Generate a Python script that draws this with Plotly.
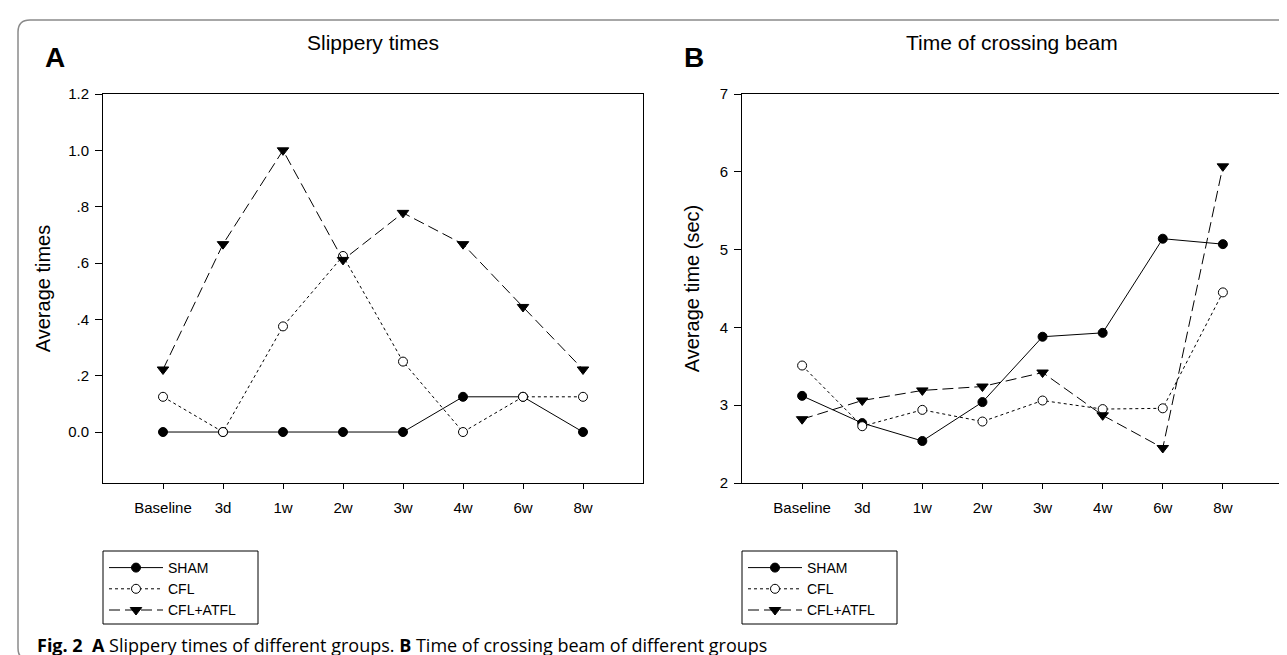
import plotly.graph_objects as go

# ---------------- data ----------------
categories = ["Baseline", "3d", "1w", "2w", "3w", "4w", "6w", "8w"]
group_names = ["SHAM", "CFL", "CFL+ATFL"]

slip_sham = [0.0, 0.0, 0.0, 0.0, 0.0, 0.125, 0.125, 0.0]
slip_cfl = [0.125, 0.0, 0.375, 0.625, 0.25, 0.0, 0.125, 0.125]
slip_cfl_atfl = [0.222, 0.667, 1.0, 0.611, 0.778, 0.667, 0.444, 0.222]

beam_sham = [3.12, 2.77, 2.54, 3.04, 3.88, 3.93, 5.14, 5.07]
beam_cfl = [3.51, 2.73, 2.94, 2.79, 3.06, 2.95, 2.96, 4.45]
beam_cfl_atfl = [2.82, 3.06, 3.19, 3.24, 3.42, 2.87, 2.45, 6.07]

slip_ticks = [0.0, 0.2, 0.4, 0.6, 0.8, 1.0, 1.2]
slip_ticktext = ["0.0", ".2", ".4", ".6", ".8", "1.0", "1.2"]
beam_ticks = [2, 3, 4, 5, 6, 7]

# ---------------- layout geometry ----------------
W, H = 1287, 655
ML, MR, MT, MB = 95, 12, 86, 180
PW, PH = W - ML - MR, H - MT - MB


def px(x):
    return (x - ML) / PW


def py(y):
    return (H - MB - y) / PH


FONT = "Liberation Sans, Arial, sans-serif"

styles = {
    "SHAM": dict(dash="solid", symbol="circle", fill="black", size=9),
    "CFL": dict(dash="dot", symbol="circle", fill="white", size=9),
    "CFL+ATFL": dict(dash="11px,5px", symbol="triangle-down", fill="black", size=10),
}

fig = go.Figure()

panels = [
    ("x", "y", "legend", [slip_sham, slip_cfl, slip_cfl_atfl]),
    ("x2", "y2", "legend2", [beam_sham, beam_cfl, beam_cfl_atfl]),
]
for xa, ya, leg, series in panels:
    for name, vals in zip(group_names, series):
        st = styles[name]
        fig.add_trace(go.Scatter(
            x=categories, y=vals, name=name, mode="lines+markers",
            xaxis=xa, yaxis=ya, legend=leg,
            line=dict(color="black", width=1, dash=st["dash"]),
            marker=dict(symbol=st["symbol"], size=st["size"], color=st["fill"],
                        line=dict(color="black", width=1)),
            hoverinfo="x+y+name",
        ))

axis_common = dict(
    showline=True, linecolor="black", linewidth=1, mirror=True,
    ticks="outside", tickcolor="black", tickwidth=1,
    showgrid=False, zeroline=False,
    tickfont=dict(family=FONT, size=15, color="black"),
)

dom_a = [0.0, px(635)]
dom_b = [px(734), 1.0]

legend_common = dict(
    xanchor="left", yanchor="top",
    borderwidth=0, bgcolor="rgba(0,0,0,0)",
    font=dict(family=FONT, size=14, color="black"),
    itemwidth=54, tracegroupgap=0,
)

fig.update_layout(
    width=W, height=H,
    margin=dict(l=ML, r=MR, t=MT, b=MB, pad=0),
    paper_bgcolor="white", plot_bgcolor="white",
    font=dict(family=FONT, color="black"),
    xaxis=dict(axis_common, domain=dom_a, anchor="y", type="category",
               range=[-1, 8], ticklen=5, ticklabelstandoff=6),
    yaxis=dict(axis_common, domain=[0, 1], anchor="x", range=[-0.181, 1.2],
               tickvals=slip_ticks, ticktext=slip_ticktext, ticklen=7,
               ticklabelstandoff=3,
               title=dict(text="Average times", standoff=12,
                          font=dict(family=FONT, size=20, color="black"))),
    xaxis2=dict(axis_common, domain=dom_b, anchor="y2", type="category",
                range=[-1, 8], ticklen=5, ticklabelstandoff=6),
    yaxis2=dict(axis_common, domain=[0, 1], anchor="x2", range=[2, 7],
                tickvals=beam_ticks, ticklen=7, ticklabelstandoff=3,
                title=dict(text="Average time (sec)", standoff=14,
                           font=dict(family=FONT, size=20, color="black"))),
    legend=dict(legend_common, x=px(96), y=py(544)),
    legend2=dict(legend_common, x=px(735), y=py(544)),
    showlegend=True,
)

annotations = [
    dict(text="Slippery times", x=(dom_a[0] + dom_a[1]) / 2, y=py(35),
         font=dict(family=FONT, size=21)),
    dict(text="Time of crossing beam", x=(dom_b[0] + dom_b[1]) / 2, y=py(35),
         font=dict(family=FONT, size=21)),
    dict(text="<b>A</b>", x=px(47), y=py(50), font=dict(family=FONT, size=28)),
    dict(text="<b>B</b>", x=px(686), y=py(50), font=dict(family=FONT, size=28)),
    dict(text="<b>Fig. 2</b>  <b>A</b> Slippery times of different groups. "
              "<b>B</b> Time of crossing beam of different groups",
         x=px(27), y=py(637), xanchor="left",
         font=dict(family="Open Sans, Noto Sans, sans-serif", size=18)),
]
for a in annotations:
    a.setdefault("xanchor", "center")
    fig.add_annotation(xref="paper", yref="paper", showarrow=False,
                       yanchor="middle", **a)

# legend frames
for left in (95, 734):
    fig.add_shape(type="rect", xref="paper", yref="paper",
                  x0=px(left), x1=px(left + 155), y0=py(616), y1=py(543),
                  line=dict(color="black", width=1), fillcolor="white",
                  layer="below")

# rounded outer frame
x0, x1 = px(10), px(1300)
y0, y1 = py(652), py(12)
rx, ry = 12 / PW, 12 / PH
path = (f"M {x0},{y1 - ry} Q {x0},{y1} {x0 + rx},{y1} L {x1},{y1} "
        f"L {x1},{y0} L {x0 + rx},{y0} Q {x0},{y0} {x0},{y0 + ry} Z")
fig.add_shape(type="path", path=path, xref="paper", yref="paper",
              line=dict(color="#8a8a8a", width=1.5), fillcolor="rgba(0,0,0,0)",
              layer="below")

fig.write_html("out.html")
